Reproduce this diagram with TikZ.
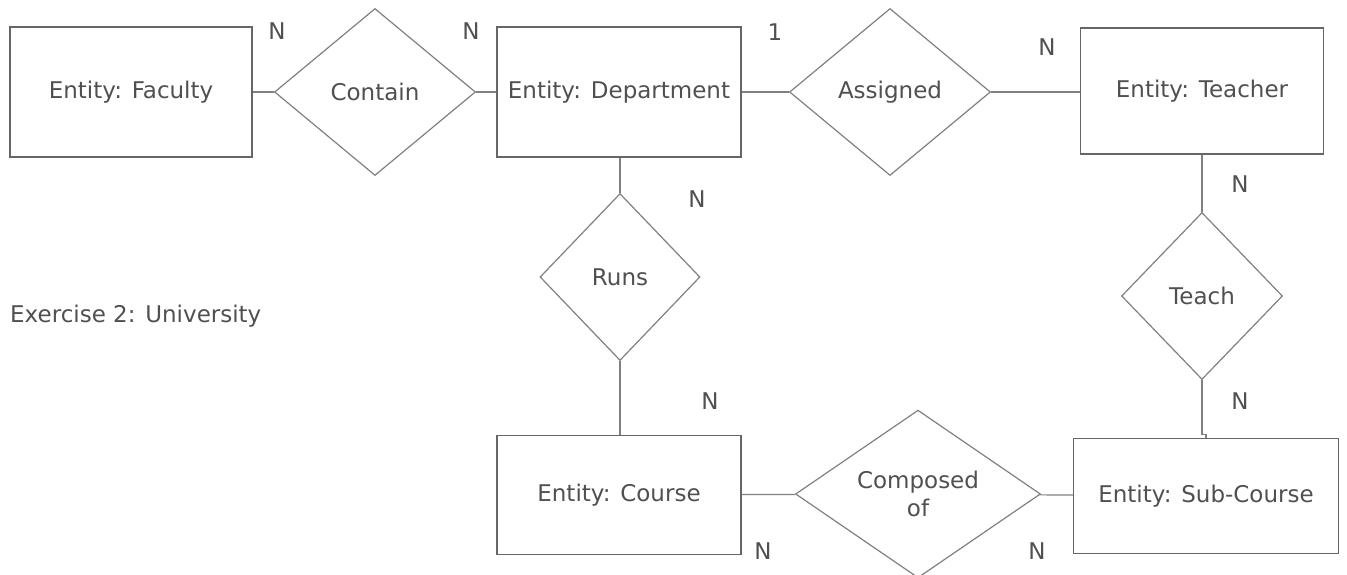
\documentclass[tikz,border=0pt]{standalone}
\usepackage{fontspec}
\setmainfont{DejaVu Sans}
\usetikzlibrary{positioning,shapes.geometric}

\definecolor{edgegray}{HTML}{808080}
\definecolor{textgray}{HTML}{505050}

\begin{document}
\begin{tikzpicture}[
    x=1pt, y=-1pt,
    every node/.style={text=textgray, font=\fontsize{23}{28}\selectfont},
    entity/.style={
      draw=edgegray!80!black,
      line width=1.3pt,
      fill=white,
      align=center,
      inner sep=0pt
    },
    relation/.style={
      diamond,
      draw=edgegray,
      line width=1.2pt,
      fill=white,
      align=center,
      inner sep=0pt
    },
    card/.style={inner sep=0pt},
    link/.style={draw=edgegray, line width=1.2pt}
  ]
    \useasboundingbox (0,0) rectangle (1347,575);

    % entities
    \node[entity, minimum width=242pt, minimum height=130pt] (faculty) at (131,92) {Entity: Faculty};
    \node[entity, minimum width=244pt, minimum height=130pt] (department) at (619,92) {Entity: Department};
    \node[entity, minimum width=243pt, minimum height=126pt] (teacher) at (1202,91) {Entity: Teacher};
    \node[entity, minimum width=244pt, minimum height=119pt] (course) at (619,495) {Entity: Course};
    \node[entity, minimum width=265pt, minimum height=115pt] (subcourse) at (1206,496) {Entity: Sub-Course};

    % relationships
    \node[relation, minimum width=201pt, minimum height=167pt] (contain) at (375,92) {Contain};
    \node[relation, minimum width=201pt, minimum height=167pt] (assigned) at (890,92) {Assigned};
    \node[relation, minimum width=160pt, minimum height=167pt] (runs) at (620,277) {Runs};
    \node[relation, minimum width=161pt, minimum height=167pt] (teach) at (1202,296) {Teach};
    \node[relation, minimum width=245pt, minimum height=165pt] (composed) at (918,494) {Composed\\of};

    % connectors
    \draw[link] (faculty) -- (contain);
    \draw[link] (contain) -- (department);
    \draw[link] (department) -- (assigned);
    \draw[link] (assigned) -- (teacher.west |- assigned);
    \draw[link] (department.south -| runs) -- (runs);
    \draw[link] (runs) -- (runs |- course.north);
    \draw[link] (teacher) -- (teach);
    \draw[link] (teach.south) -- ++(0,54) -| (subcourse.north);
    \draw[link] (course) -- (composed);
    \draw[link] (composed) -- (subcourse);

    % cardinalities
    \node[card] (nfac) at (277,31) {N};
    \node[card] (ndep) at (471,31) {N};
    \node[card] (onedep) at (775,32) {1};
    \node[card] (ntea) at (1047,47) {N};
    \node[card] (nruns) at (697,199) {N};
    \node[card] (nteach) at (1240,184) {N};
    \node[card] (nsub) at (1240,401) {N};
    \node[card] (ncourse) at (710,401) {N};
    \node[card] (ncomp) at (763,551) {N};
    \node[card] (ncompsub) at (1037,551) {N};

    % title
    \node[anchor=west, inner sep=0pt] (title) at (10,316) {Exercise 2: University};
  \end{tikzpicture}
\end{document}
